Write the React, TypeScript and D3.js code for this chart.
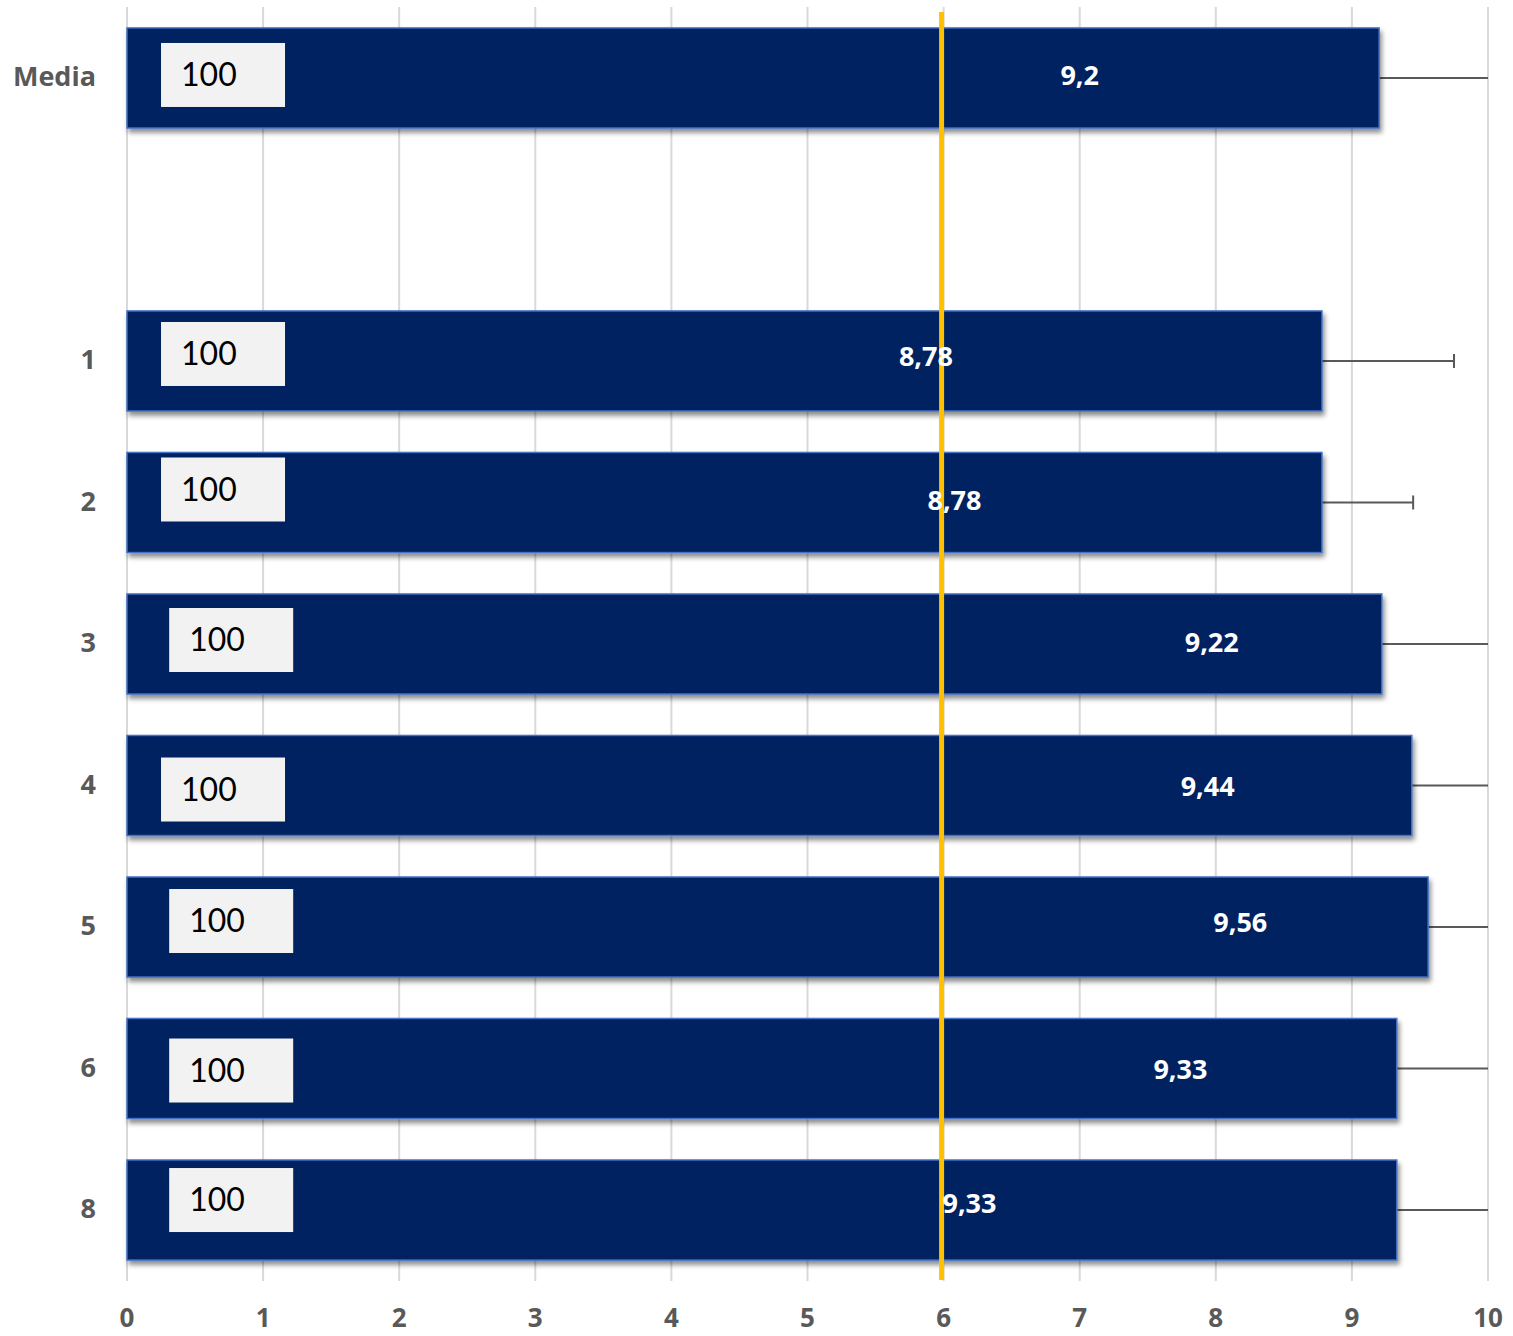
import React from "react";
import * as d3 from "d3";

const width = 1513;
const height = 1336;

// categories top to bottom (one empty slot under Media)
const categories = ["Media", "", "1", "2", "3", "4", "5", "6", "8"];
const barCats = ["Media", "1", "2", "3", "4", "5", "6", "8"];
const values = [9.2, 8.78, 8.78, 9.22, 9.44, 9.56, 9.33, 9.33];
const valueLabels = ["9,2", "8,78", "8,78", "9,22", "9,44", "9,56", "9,33", "9,33"];
const errPlus = [1.0, 0.97, 0.67, 0.9, 0.8, 0.6, 0.9, 0.9];
const boxLabels = ["100", "100", "100", "100", "100", "100", "100", "100"];
const threshold = 6;
const ticks = [0, 1, 2, 3, 4, 5, 6, 7, 8, 9, 10];

// hand-placed label spots, as in the source workbook
const labelAt = [7.0, 5.87, 6.08, 7.97, 7.94, 8.18, 7.74, 6.19];
const labelDy = [0, -2, 0, 1, 3, -2, 3, -4];
const boxAt = [0.25, 0.25, 0.25, 0.31, 0.25, 0.31, 0.31, 0.31];
const boxDy = [-3, -7, -13, -4, 4, -6, 2, -10];

const x = d3.scaleLinear().domain([0, 10]).range([127, 1488]);
const y = d3
  .scaleBand()
  .domain(categories)
  .range([7, 1281])
  .paddingInner(0.293)
  .paddingOuter(0.148);

const boldFont = "'Open Sans', 'DejaVu Sans', sans-serif";
const gray = "#595959";

const App = () => {
  const bw = y.bandwidth();
  return (
    <svg
      width={width}
      height={height}
      style={{ position: "absolute", left: 0, top: 0, background: "#fff" }}
    >
      <defs>
        <filter id="shadow" x="-5%" y="-20%" width="110%" height="150%">
          <feDropShadow dx="2" dy="4" stdDeviation="2.5" floodColor="#000" floodOpacity="0.45" />
        </filter>
      </defs>

      {ticks.map((t) => (
        <line key={t} x1={x(t)} x2={x(t)} y1={7} y2={1281} stroke="#d9d9d9" strokeWidth={2} />
      ))}

      {barCats.map((c, i) => {
        const yc = (y(c) as number) + bw / 2;
        const end = Math.min(values[i] + errPlus[i], 10);
        const capped = values[i] + errPlus[i] <= 10;
        return (
          <g key={"e" + c}>
            <line x1={x(values[i])} x2={x(end)} y1={yc} y2={yc} stroke={gray} strokeWidth={2} />
            {capped && (
              <line x1={x(end)} x2={x(end)} y1={yc - 7} y2={yc + 7} stroke={gray} strokeWidth={2} />
            )}
          </g>
        );
      })}

      {barCats.map((c, i) => (
        <rect
          key={"b" + c}
          x={x(0)}
          y={y(c)}
          width={x(values[i]) - x(0)}
          height={bw}
          fill="#002060"
          stroke="#4472C4"
          strokeWidth={1.5}
          filter="url(#shadow)"
        />
      ))}

      {barCats.map((c, i) => {
        const yc = (y(c) as number) + bw / 2 + boxDy[i];
        return (
          <g key={"x" + c}>
            <rect x={x(boxAt[i])} y={yc - 32} width={124} height={64} fill="#F2F2F2" />
            <text
              x={x(boxAt[i]) + 20}
              y={yc + 3}
              dominantBaseline="middle"
              fontFamily="Lato, 'Noto Sans', sans-serif"
              fontSize={32}
              fill="#000"
            >
              {boxLabels[i]}
            </text>
          </g>
        );
      })}

      <line
        x1={x(threshold) - 2}
        x2={x(threshold) - 2}
        y1={12}
        y2={1280}
        stroke="#FFC000"
        strokeWidth={5}
      />

      {barCats.map((c, i) => (
        <text
          key={"v" + c}
          x={x(labelAt[i])}
          y={(y(c) as number) + bw / 2 + labelDy[i]}
          textAnchor="middle"
          dominantBaseline="middle"
          fontFamily={boldFont}
          fontWeight={700}
          fontSize={27}
          fill="#fff"
        >
          {valueLabels[i]}
        </text>
      ))}

      {barCats.map((c) => (
        <text
          key={"c" + c}
          x={96}
          y={(y(c) as number) + bw / 2 + 1}
          textAnchor="end"
          dominantBaseline="middle"
          fontFamily={boldFont}
          fontWeight={700}
          fontSize={27}
          fill={gray}
        >
          {c}
        </text>
      ))}

      {ticks.map((t) => (
        <text
          key={"t" + t}
          x={x(t)}
          y={1320}
          textAnchor="middle"
          dominantBaseline="middle"
          fontFamily={boldFont}
          fontWeight={700}
          fontSize={26}
          fill={gray}
        >
          {t}
        </text>
      ))}
    </svg>
  );
};

export default App;
